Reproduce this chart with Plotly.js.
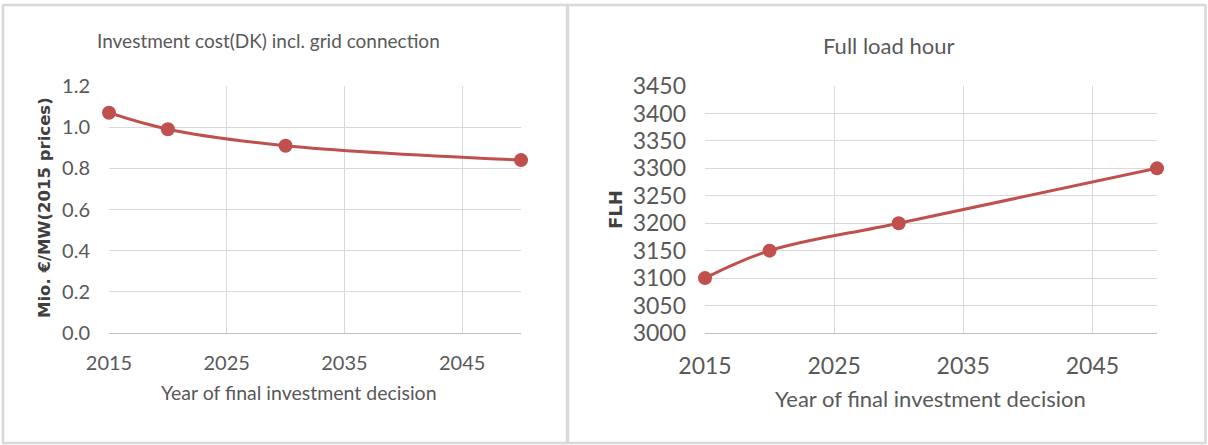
<!DOCTYPE html>
<html>
<head>
<meta charset="utf-8">
<script src="https://cdn.plot.ly/plotly-3.0.1.min.js"></script>
<style>
  html, body { margin: 0; padding: 0; background: #ffffff; }
  #chart { width: 1208px; height: 445px; }
</style>
</head>
<body>
<div id="chart"></div>
<script>
// Year of final investment decision
const years = [2015, 2020, 2030, 2050];
// Investment cost incl. grid connection, Mio. €/MW (2015 prices)
const investmentCost = [1.07, 0.99, 0.91, 0.84];
// Full load hours
const fullLoadHours = [3100, 3150, 3200, 3300];

const xTickVals = [2015, 2025, 2035, 2045];
const xTickText = ['2015', '2025', '2035', '2045'];

const W = 1208, H = 445;
const px = v => v / W;
const py = v => 1 - v / H;

const RED = '#c0504d';
const GRID = '#d9d9d9';
const TEXT = '#595959';
const FONT = 'Lato, "Open Sans", sans-serif';

function lineTrace(y, xa, ya) {
  return {
    x: years, y: y, xaxis: xa, yaxis: ya,
    type: 'scatter', mode: 'lines+markers',
    line: { color: RED, width: 3, shape: 'spline', smoothing: 1 },
    marker: { color: RED, size: 14 },
    hoverinfo: 'x+y', showlegend: false, cliponaxis: false
  };
}

function xAxis(domain, anchor, size) {
  return {
    domain: domain, anchor: anchor, range: [2015, 2050],
    tickvals: xTickVals, ticktext: xTickText,
    showgrid: true, gridcolor: GRID, gridwidth: 1,
    zeroline: false, showline: true, linecolor: '#bfbfbf', linewidth: 1,
    ticks: '', ticklabelstandoff: 12,
    tickfont: { family: FONT, size: size, color: TEXT },
    fixedrange: true
  };
}

function yAxis(domain, anchor, range, dtick, fmt, size) {
  return {
    domain: domain, anchor: anchor, range: range, dtick: dtick, tick0: range[0],
    tickformat: fmt,
    showgrid: true, gridcolor: GRID, gridwidth: 1,
    zeroline: false, showline: false,
    ticks: '', ticklabelstandoff: 18,
    tickfont: { family: FONT, size: size, color: TEXT },
    fixedrange: true
  };
}

const yDom = [py(333), py(86)];

const layout = {
  width: W, height: H,
  margin: { l: 0, r: 0, t: 0, b: 0 },
  paper_bgcolor: '#ffffff', plot_bgcolor: '#ffffff',
  xaxis: xAxis([px(109), px(521)], 'y', 20),
  yaxis: yAxis(yDom, 'x', [0, 1.2], 0.2, '.1f', 20),
  xaxis2: xAxis([px(705), px(1157)], 'y2', 23),
  yaxis2: yAxis(yDom, 'x2', [3000, 3450], 50, 'd', 23),
  shapes: [
    // chart frames
    { type: 'rect', xref: 'paper', yref: 'paper', x0: px(3), x1: px(567), y0: py(443), y1: py(5),
      line: { color: GRID, width: 2.5 }, fillcolor: 'rgba(0,0,0,0)' },
    { type: 'rect', xref: 'paper', yref: 'paper', x0: px(568), x1: px(1205.5), y0: py(443), y1: py(5),
      line: { color: GRID, width: 2.5 }, fillcolor: 'rgba(0,0,0,0)' }
  ],
  annotations: [
    { text: 'Investment cost(DK) incl. grid connection', xref: 'paper', yref: 'paper',
      x: px(268), y: py(40), xanchor: 'center', yanchor: 'middle', showarrow: false,
      font: { family: FONT, size: 19, color: TEXT } },
    { text: 'Full load hour', xref: 'paper', yref: 'paper',
      x: px(888), y: py(45), xanchor: 'center', yanchor: 'middle', showarrow: false,
      font: { family: FONT, size: 22, color: TEXT } },
    { text: 'Year of final investment decision', xref: 'paper', yref: 'paper',
      x: px(299), y: py(392), xanchor: 'center', yanchor: 'middle', showarrow: false,
      font: { family: FONT, size: 19.5, color: TEXT } },
    { text: 'Year of final investment decision', xref: 'paper', yref: 'paper',
      x: px(930), y: py(398), xanchor: 'center', yanchor: 'middle', showarrow: false,
      font: { family: FONT, size: 22, color: TEXT } },
    { text: '<b>Mio. €/MW(2015 prices)</b>', xref: 'paper', yref: 'paper',
      x: px(44), y: py(208), xanchor: 'center', yanchor: 'middle', textangle: -90, showarrow: false,
      font: { family: '"DejaVu Sans", Verdana, sans-serif', size: 16.5, color: '#404040' } },
    { text: '<b>FLH</b>', xref: 'paper', yref: 'paper',
      x: px(615), y: py(210), xanchor: 'center', yanchor: 'middle', textangle: -90, showarrow: false,
      font: { family: '"DejaVu Sans", Verdana, sans-serif', size: 18, color: '#404040' } }
  ]
};

Plotly.newPlot('chart', [
  lineTrace(investmentCost, 'x', 'y'),
  lineTrace(fullLoadHours, 'x2', 'y2')
], layout, { displayModeBar: false, staticPlot: true });
</script>
</body>
</html>
